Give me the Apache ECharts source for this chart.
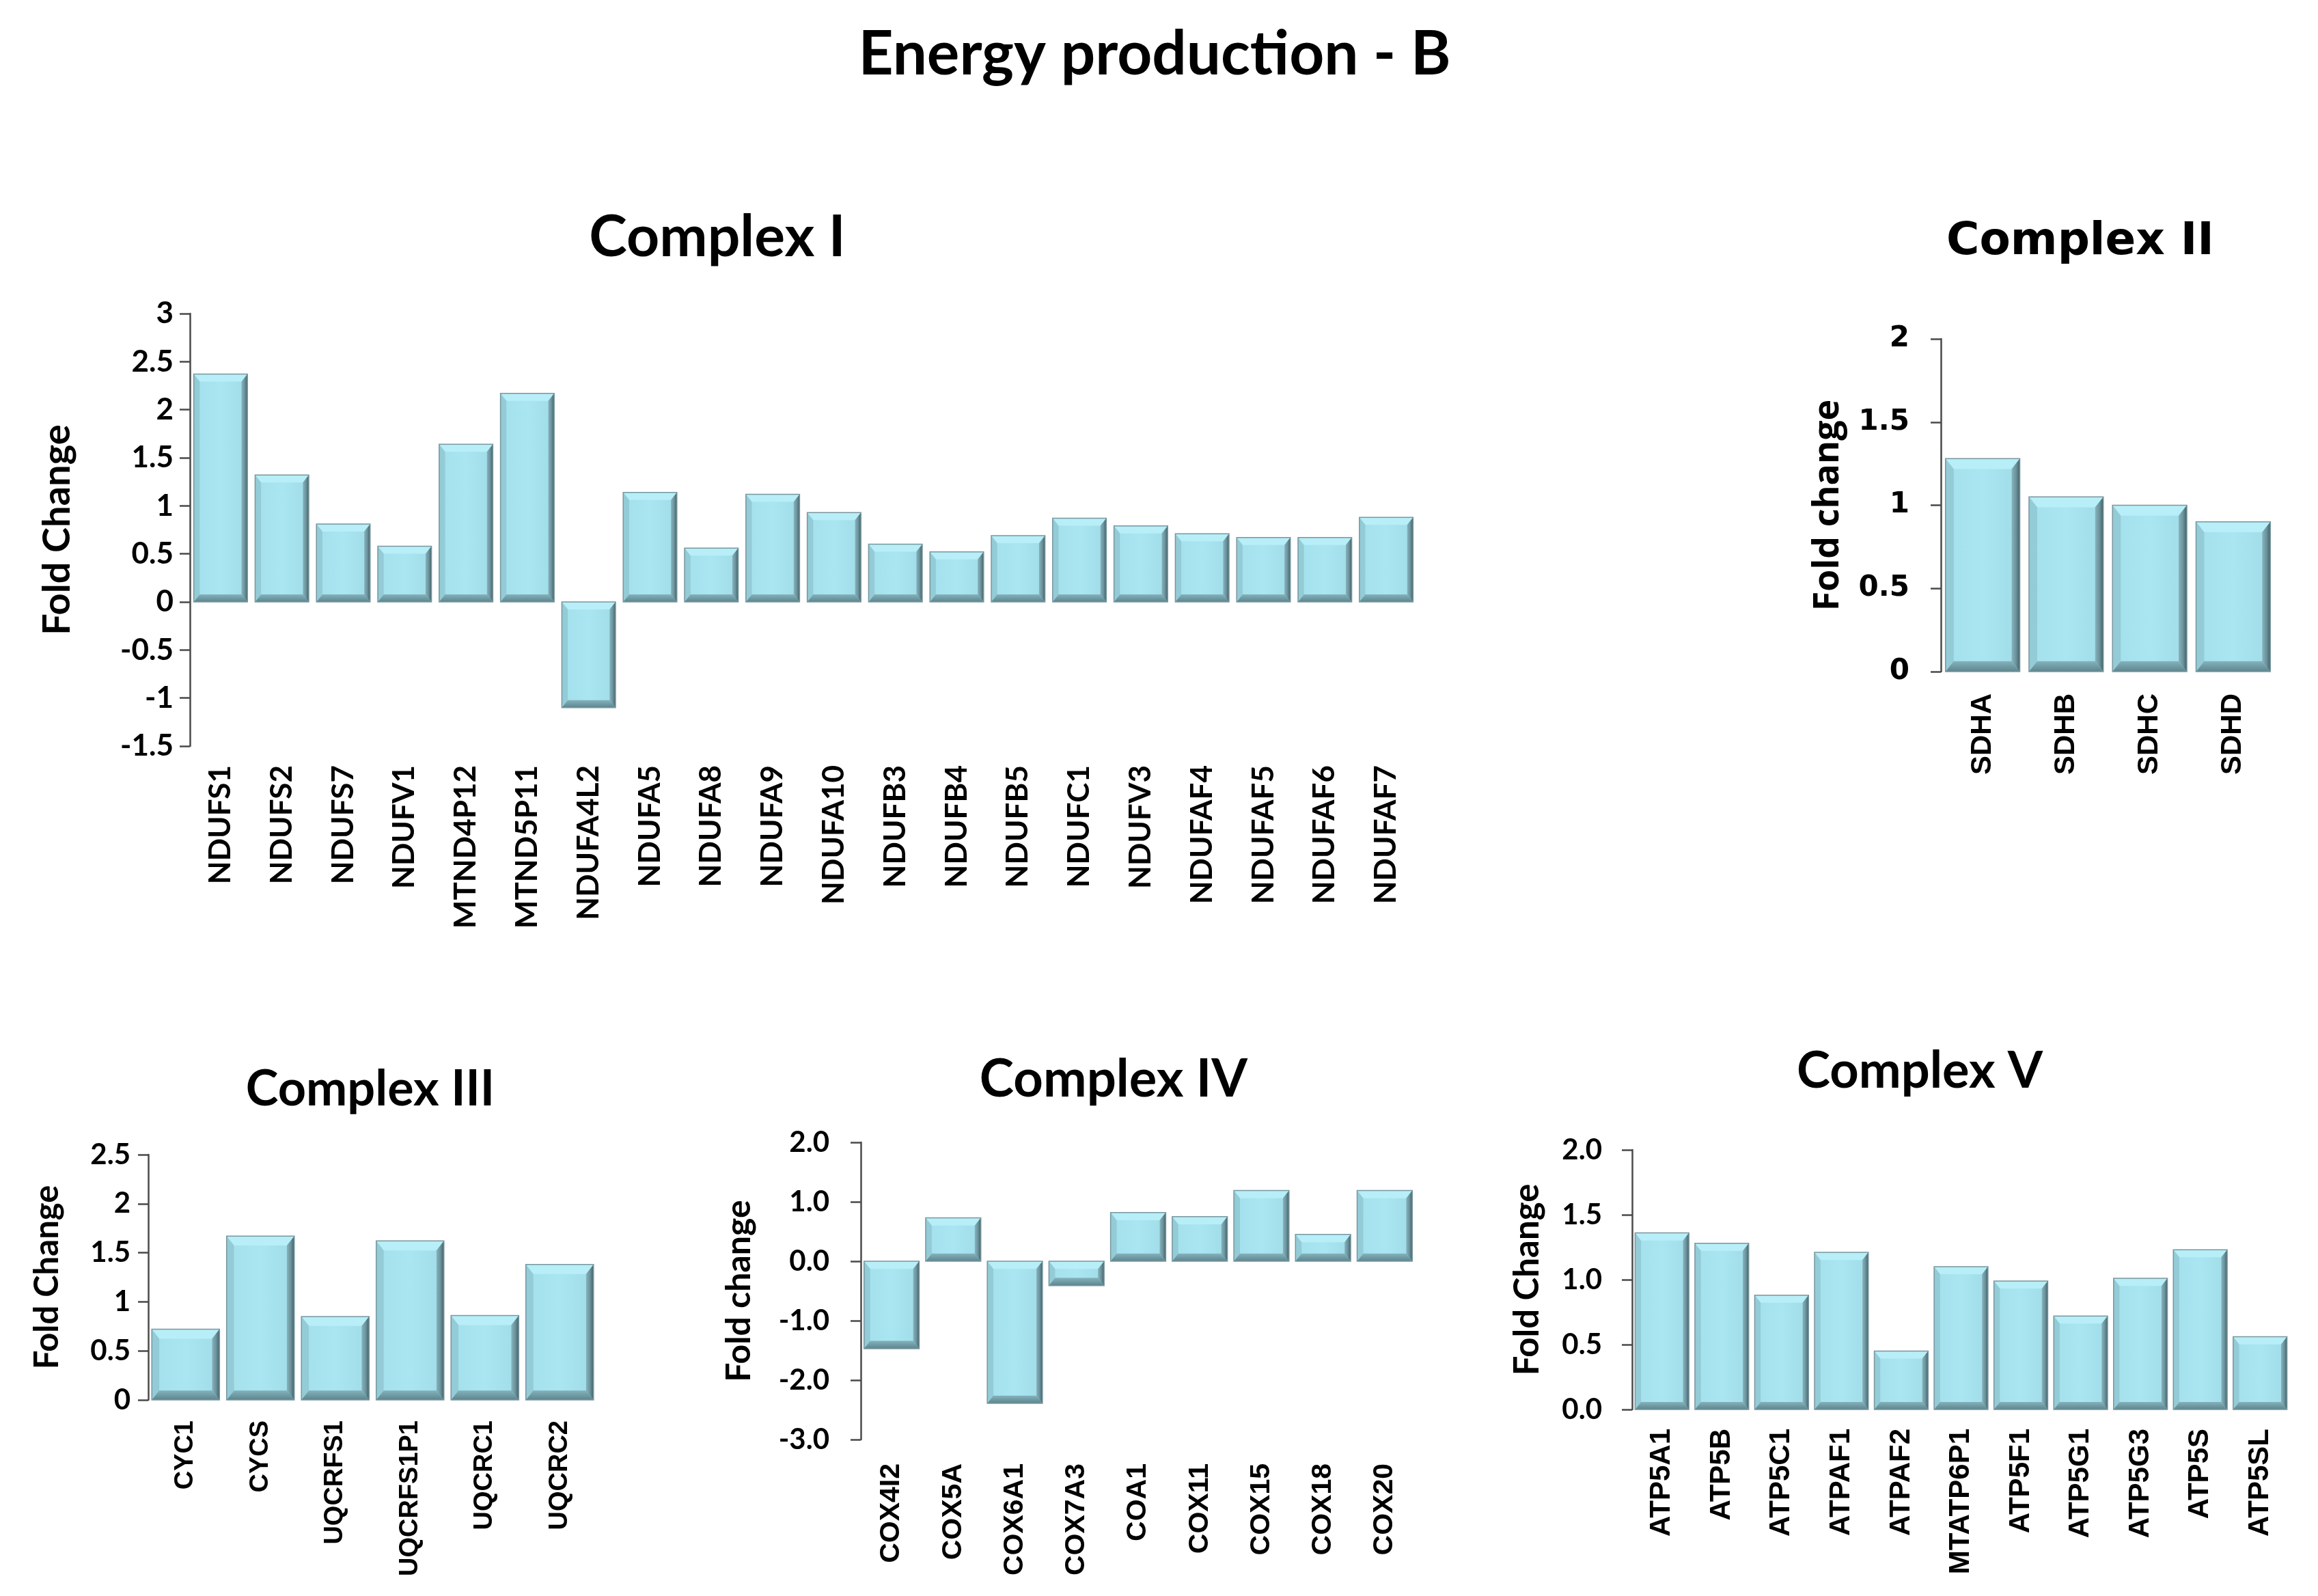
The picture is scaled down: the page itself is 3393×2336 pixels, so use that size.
<!DOCTYPE html>
<html>
<head>
<meta charset="utf-8">
<script src="https://cdn.jsdelivr.net/npm/echarts@6/dist/echarts.min.js"></script>
<style>
html,body{margin:0;padding:0;background:#fff;}
#c{width:3393px;height:2336px;}
</style>
</head>
<body>
<div id="c"></div>
<script>
// ---- data ----
const catI = ['NDUFS1','NDUFS2','NDUFS7','NDUFV1','MTND4P12','MTND5P11','NDUFA4L2','NDUFA5','NDUFA8','NDUFA9','NDUFA10','NDUFB3','NDUFB4','NDUFB5','NDUFC1','NDUFV3','NDUFAF4','NDUFAF5','NDUFAF6','NDUFAF7'];
const valI = [2.37,1.32,0.81,0.58,1.64,2.17,-1.10,1.14,0.56,1.12,0.93,0.60,0.52,0.69,0.87,0.79,0.71,0.67,0.67,0.88];
const catII = ['SDHA','SDHB','SDHC','SDHD'];
const valII = [1.28,1.05,1.00,0.90];
const catIII = ['CYC1','CYCS','UQCRFS1','UQCRFS1P1','UQCRC1','UQCRC2'];
const valIII = [0.72,1.67,0.85,1.62,0.86,1.38];
const catIV = ['COX4I2','COX5A','COX6A1','COX7A3','COA1','COX11','COX15','COX18','COX20'];
const valIV = [-1.47,0.73,-2.39,-0.41,0.82,0.75,1.19,0.45,1.19];
const catV = ['ATP5A1','ATP5B','ATP5C1','ATPAF1','ATPAF2','MTATP6P1','ATP5F1','ATP5G1','ATP5G3','ATP5S','ATP5SL'];
const valV = [1.36,1.28,0.88,1.21,0.45,1.10,0.99,0.72,1.01,1.23,0.56];

const mainTitle = 'Energy production - B';
const panelTitles = ['Complex I','Complex II','Complex III','Complex IV','Complex V'];
const yNames = ['Fold Change','Fold change','Fold Change','Fold change','Fold Change'];

// ---- layout / style ----
const panels = [
  {cats:catI, vals:valI, grid:{left:278, top:459, width:1796, height:633}, min:-1.5, max:3, interval:0.5, dec:null,
   frac:0.875, title:[1050,348,84], yName:{gap:166, size:56, font:'Lato'}, tick:{size:44, font:'Lato', margin:24},
   xl:{size:44, font:'Lato', margin:28}},
  {cats:catII, vals:valII, grid:{left:2841, top:496, width:489, height:487}, min:0, max:2, interval:0.5, dec:null,
   frac:0.89, title:[3045,355,66, 'DejaVu Sans'], yName:{gap:139, size:52, font:'Open Sans'}, tick:{size:42, font:'DejaVu Sans', margin:46},
   xl:{size:42, font:'Liberation Sans', margin:32}},
  {cats:catIII, vals:valIII, grid:{left:217, top:1690, width:657, height:359}, min:0, max:2.5, interval:0.5, dec:null,
   frac:0.905, title:[542,1595,72], yName:{gap:123, size:49, font:'Lato'}, tick:{size:42, font:'Lato', margin:26},
   xl:{size:38, font:'Liberation Sans', margin:30}},
  {cats:catIV, vals:valIV, grid:{left:1260, top:1672, width:812, height:435}, min:-3, max:2, interval:1, dec:1,
   frac:0.895, title:[1630,1580,76], yName:{gap:153, size:50, font:'Lato'}, tick:{size:42, font:'Lato', margin:46},
   xl:{size:41, font:'Liberation Sans', margin:35}},
  {cats:catV, vals:valV, grid:{left:2389, top:1683, width:963, height:380}, min:0, max:2, interval:0.5, dec:1,
   frac:0.9, title:[2810,1568,74], yName:{gap:128, size:51, font:'Lato'}, tick:{size:42, font:'Lato', margin:44},
   xl:{size:42, font:'Liberation Sans', margin:28}}
];

function bevel(frac){
  return function(params, api){
    const i = api.value(0), v = api.value(1);
    const base = api.coord([i, 0]), topP = api.coord([i, v]);
    const bw = api.size([1, 0])[0] * frac;
    const x0 = base[0] - bw/2, x1 = base[0] + bw/2;
    const y0 = Math.min(base[1], topP[1]), y1 = Math.max(base[1], topP[1]);
    const h = y1 - y0;
    const b = Math.min(bw*0.14, h/2);
    const s = Math.min(bw*0.11, h/2);
    const ix0 = x0 + s, ix1 = x1 - s, iy0 = y0 + b, iy1 = y1 - b;
    return {type:'group', children:[
      {type:'rect', shape:{x:x0, y:y0, width:bw, height:h},
       style:{fill:{type:'linear', x:0, y:0, x2:1, y2:0, colorStops:[{offset:0,color:'#a3e0eb'},{offset:0.5,color:'#aae6f1'},{offset:1,color:'#a0dce8'}]}}},
      {type:'polygon', shape:{points:[[x0,y0],[x1,y0],[ix1,iy0],[ix0,iy0]]}, style:{fill:'#b7eef8'}},
      {type:'polygon', shape:{points:[[x0,y0],[ix0,iy0],[ix0,iy1],[x0,y1]]}, style:{fill:'#93cbd6'}},
      {type:'polygon', shape:{points:[[x1,y0],[x1,y1],[ix1,iy1],[ix1,iy0]]},
       style:{fill:{type:'linear', x:0, y:0, x2:1, y2:0, colorStops:[{offset:0,color:'#86b3bd'},{offset:0.55,color:'#6a929b'},{offset:1,color:'#425f66'}]}}},
      {type:'polygon', shape:{points:[[x0,y1],[ix0,iy1],[ix1,iy1],[x1,y1]]},
       style:{fill:{type:'linear', x:0, y:0, x2:0, y2:1, colorStops:[{offset:0,color:'#84b2bc'},{offset:1,color:'#5d858e'}]}}},
      {type:'rect', shape:{x:x0, y:y0, width:bw, height:h}, style:{fill:null, stroke:'#78979f', lineWidth:1.5}}
    ]};
  };
}

const grids = [], xAxes = [], yAxes = [], series = [], graphics = [];
graphics.push({type:'text', x:1690, y:80, style:{text:mainTitle, font:'bold 89px Lato', fill:'#000', textAlign:'center', textVerticalAlign:'middle'}});

panels.forEach((p, k) => {
  grids.push(Object.assign({outerBoundsMode:'none', containLabel:false}, p.grid));
  xAxes.push({
    type:'category', gridIndex:k, data:p.cats, position:'bottom',
    axisLine:{show:false, onZero:false}, axisTick:{show:false},
    axisLabel:{rotate:90, interval:0, margin:p.xl.margin, fontFamily:p.xl.font, fontWeight:'bold', fontSize:p.xl.size, color:'#000'}
  });
  yAxes.push({
    type:'value', gridIndex:k, min:p.min, max:p.max, interval:p.interval,
    name:yNames[k], nameLocation:'middle', nameGap:p.yName.gap,
    nameTextStyle:{fontFamily:p.yName.font, fontWeight:'bold', fontSize:p.yName.size, color:'#000'},
    axisLine:{show:true, lineStyle:{color:'#4a4a4a', width:2.5}},
    axisTick:{show:true, inside:false, length:15, lineStyle:{color:'#4a4a4a', width:2.5}},
    splitLine:{show:false},
    axisLabel:{margin:p.tick.margin, fontFamily:p.tick.font, fontWeight:'bold', fontSize:p.tick.size, color:'#000',
      formatter: p.dec === null ? (v => String(Math.round(v*10)/10)) : (v => v.toFixed(p.dec))}
  });
  series.push({
    type:'custom', xAxisIndex:k, yAxisIndex:k, renderItem:bevel(p.frac),
    data:p.vals.map((v,i)=>[i,v]), encode:{x:0, y:1}, silent:true
  });
  graphics.push({type:'text', x:p.title[0], y:p.title[1],
    style:{text:panelTitles[k], font:'bold ' + p.title[2] + 'px ' + (p.title[3] || 'Lato'), fill:'#000', textAlign:'center', textVerticalAlign:'middle'}});
});

const chart = echarts.init(document.getElementById('c'), null, {renderer:'canvas'});
chart.setOption({
  backgroundColor:'#fff',
  animation:false,
  grid:grids, xAxis:xAxes, yAxis:yAxes, series:series,
  graphic:graphics
});
</script>
</body>
</html>
